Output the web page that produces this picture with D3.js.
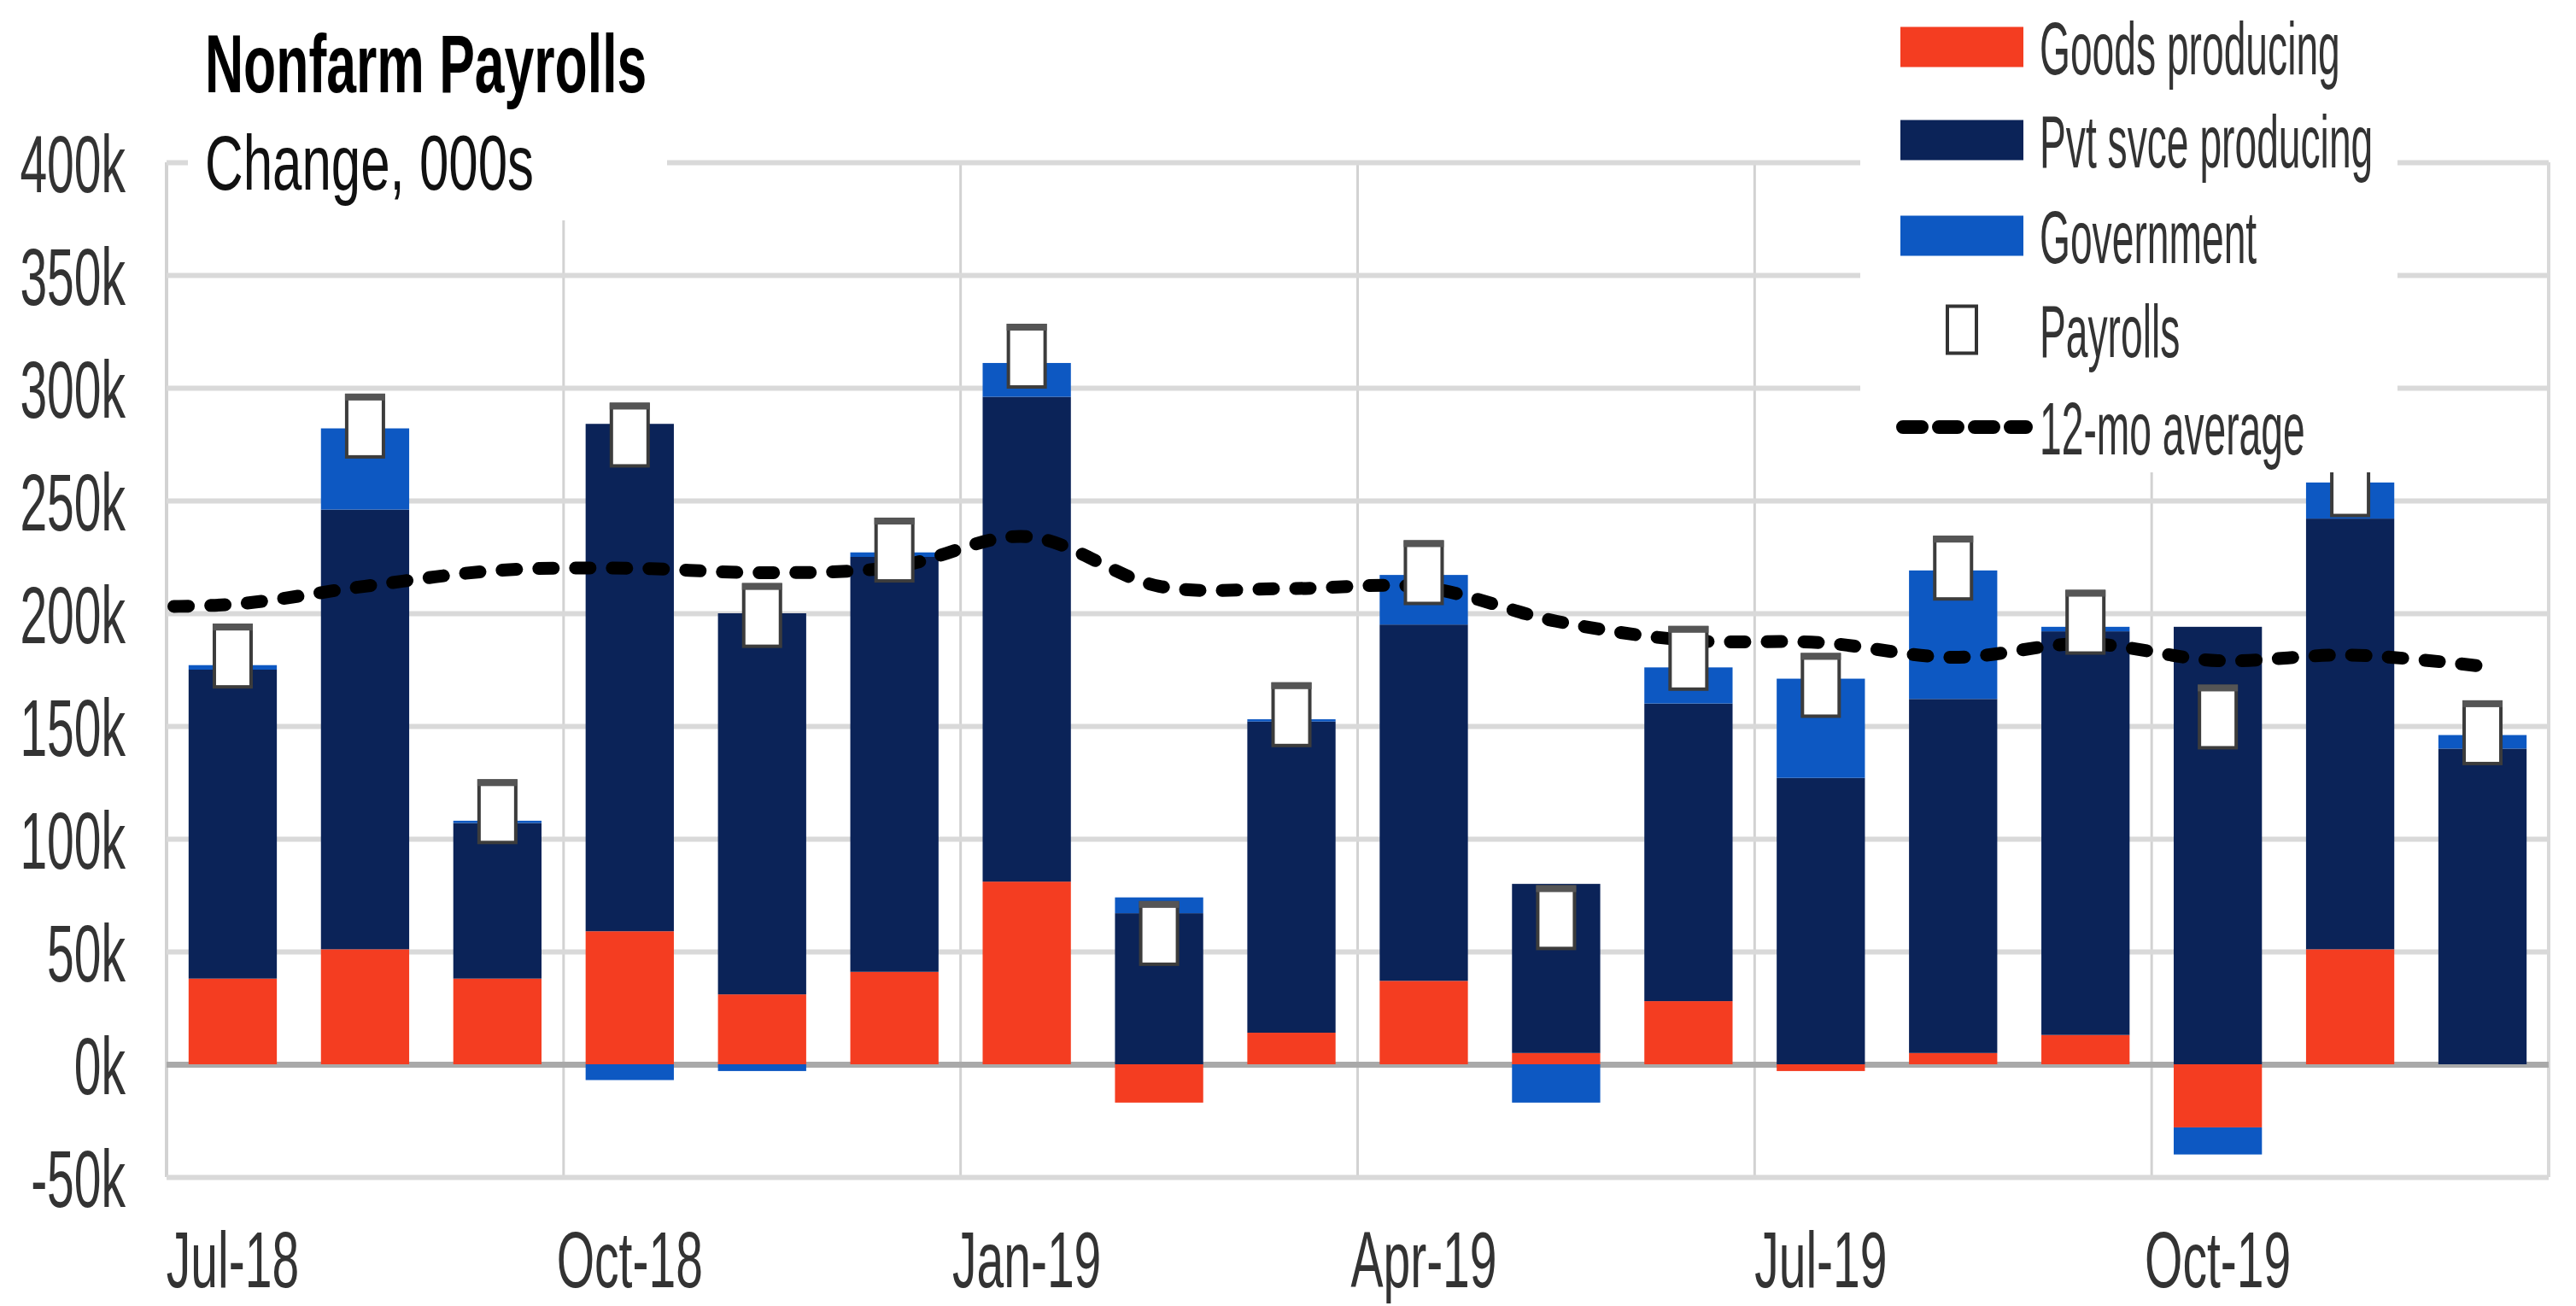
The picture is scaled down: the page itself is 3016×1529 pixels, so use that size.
<!DOCTYPE html>
<html>
<head>
<meta charset="utf-8">
<script src="https://cdn.jsdelivr.net/npm/d3@7"></script>
<style>
  html, body { margin: 0; padding: 0; background: #fff; }
  svg { display: block; font-family: "Liberation Sans", Arial, sans-serif; }
</style>
</head>
<body>
<svg id="chart" width="3016" height="1529"></svg>
<script>
// ---------------- data ----------------
const months = ["Jul-18","Aug-18","Sep-18","Oct-18","Nov-18","Dec-18","Jan-19","Feb-19","Mar-19",
                "Apr-19","May-19","Jun-19","Jul-19","Aug-19","Sep-19","Oct-19","Nov-19","Dec-19"];
const goods    = [38, 51, 38, 59, 31, 41, 81, -17, 14, 37, 5, 28, -3, 5, 13, -28, 51, 0];
const pvt      = [137, 195, 69, 225, 169, 184, 215, 67, 138, 158, 75, 132, 127, 157, 179, 194, 191, 140];
const gov      = [2, 36, 1, -7, -3, 2, 15, 7, 1, 22, -17, 16, 44, 57, 2, -12, 16, 6];
const payrolls = [181, 283, 112, 279, 199, 228, 314, 58, 155, 218, 65, 180, 168, 220, 196, 154, 257, 147];
// 12-month average, starting one month before the first bar (Jun-18)
const avgMonths = ["Jun-18"].concat(months);
const avg12    = [203, 204, 212, 219, 220, 218, 220.5, 234, 212, 211, 211.5, 196.5, 188, 187, 180.5, 186.5, 179, 181.5, 176.5];
const yTicks = [-50, 0, 50, 100, 150, 200, 250, 300, 350, 400];
const xTickLabels = ["Jul-18","Oct-18","Jan-19","Apr-19","Jul-19","Oct-19"];
const seriesKeys = ["goods", "pvt", "gov"];
const seriesNames = ["Goods producing", "Pvt svce producing", "Government"];
const title = "Nonfarm Payrolls";
const subtitle = "Change, 000s";

// ---------------- layout / style ----------------
const colors = { goods: "#f43d21", pvt: "#0b2358", gov: "#0d58c2" };
const plot = { left: 195, right: 2984, top: 190, bottom: 1378 };

const svg = d3.select("#chart");
svg.append("rect").attr("width", 3016).attr("height", 1529).attr("fill", "#fff");

const x = d3.scaleBand().domain(months).range([plot.left, plot.right])
  .paddingInner(1/3).paddingOuter(1/6);
const xIdx = d3.scaleLinear().domain([0, months.length]).range([plot.left, plot.right]);
const y = d3.scaleLinear().domain([-50, 400]).range([plot.bottom, plot.top]);

const rows = months.map((m, i) => ({ month: m, goods: goods[i], pvt: pvt[i], gov: gov[i] }));
const stacked = d3.stack().keys(seriesKeys).offset(d3.stackOffsetDiverging)(rows);

// ---------------- gridlines ----------------
const grid = svg.append("g");
const vIdx = d3.range(0, months.length + 1, 3);
grid.selectAll("line.v").data(vIdx).join("line")
  .attr("x1", d => xIdx(d)).attr("x2", d => xIdx(d))
  .attr("y1", plot.top).attr("y2", plot.bottom)
  .attr("stroke", "#d2d2d2").attr("stroke-width", d => d === 0 ? 4 : 3);
grid.append("line")
  .attr("x1", xIdx(months.length)).attr("x2", xIdx(months.length))
  .attr("y1", plot.top).attr("y2", plot.bottom)
  .attr("stroke", "#d9d9d9").attr("stroke-width", 4);

const yGrid = svg.append("g").attr("transform", `translate(${plot.left},0)`)
  .call(d3.axisLeft(y).tickValues(yTicks).tickSize(-(plot.right - plot.left)).tickFormat(""));
yGrid.select(".domain").remove();
yGrid.selectAll(".tick line")
  .attr("stroke", d => d === 0 ? "#a9a9a9" : "#d9d9d9")
  .attr("stroke-width", d => d === 0 ? 7 : 6);

// ---------------- bars ----------------
const barG = svg.append("g");
stacked.forEach(s => {
  barG.append("g").attr("fill", colors[s.key])
    .selectAll("rect").data(s).join("rect")
    .attr("x", d => x(d.data.month))
    .attr("width", x.bandwidth())
    .attr("y", d => y(Math.max(d[0], d[1])))
    .attr("height", d => Math.abs(y(d[0]) - y(d[1])));
});

// ---------------- 12-mo average ----------------
svg.append("clipPath").attr("id", "plotclip").append("rect")
  .attr("x", plot.left).attr("y", plot.top)
  .attr("width", plot.right - plot.left).attr("height", plot.bottom - plot.top);
const line = d3.line()
  .x((d, i) => xIdx(i - 0.5))
  .y(d => y(d))
  .curve(d3.curveCatmullRom.alpha(0.5));
svg.append("path").datum(avg12)
  .attr("clip-path", "url(#plotclip)")
  .attr("d", line)
  .attr("fill", "none").attr("stroke", "#000")
  .attr("stroke-width", 15).attr("stroke-linecap", "round")
  .attr("stroke-dasharray", "17 26");

// ---------------- payroll markers ----------------
const mW = 43, mH = 72;
const mk = svg.append("g");
mk.selectAll("rect.m").data(payrolls).join("rect")
  .attr("x", (d, i) => x(months[i]) + x.bandwidth() / 2 - mW / 2)
  .attr("y", d => y(d) - mH / 2)
  .attr("width", mW).attr("height", mH)
  .attr("fill", "#fff").attr("stroke", "#3c3c3c").attr("stroke-width", 4);
mk.selectAll("rect.t").data(payrolls).join("rect")
  .attr("x", (d, i) => x(months[i]) + x.bandwidth() / 2 - mW / 2 - 2)
  .attr("y", d => y(d) - mH / 2 - 2)
  .attr("width", mW + 4).attr("height", 8)
  .attr("fill", "#555");

// ---------------- axes labels ----------------
const tickFont = 95, tickSX = 0.6;
const yAx = svg.append("g").attr("transform", `translate(${plot.left},0)`)
  .call(d3.axisLeft(y).tickValues(yTicks).tickSize(0).tickFormat(d => d + "k"));
yAx.select(".domain").remove();
yAx.selectAll(".tick text")
  .attr("x", null).attr("dy", null)
  .attr("font-size", tickFont).attr("fill", "#333")
  .attr("font-family", "Liberation Sans, Arial, sans-serif")
  .attr("text-anchor", "end")
  .attr("transform", `translate(-48, ${tickFont * 0.358}) scale(${tickSX},1)`);

const xFont = 92;
const xAx = svg.append("g").attr("transform", `translate(0,${plot.bottom})`)
  .call(d3.axisBottom(x).tickValues(xTickLabels).tickSize(0));
xAx.select(".domain").remove();
xAx.selectAll(".tick text")
  .attr("y", null).attr("dy", null)
  .attr("font-size", xFont).attr("fill", "#333")
  .attr("font-family", "Liberation Sans, Arial, sans-serif")
  .attr("text-anchor", "middle")
  .attr("transform", `translate(0, 129) scale(0.62,1)`);

// ---------------- title box ----------------
svg.append("rect").attr("x", 220).attr("y", 0).attr("width", 561).attr("height", 258).attr("fill", "#fff");
svg.append("text").text(title)
  .attr("transform", "translate(240,108) scale(0.644,1)")
  .attr("font-size", 97).attr("font-weight", "bold").attr("fill", "#000");
svg.append("text").text(subtitle)
  .attr("transform", "translate(240,222) scale(0.687,1)")
  .attr("font-size", 90).attr("fill", "#111");

// ---------------- legend ----------------
svg.append("rect").attr("x", 2178).attr("y", 0).attr("width", 629).attr("height", 553).attr("fill", "#fff");
const lg = svg.append("g");
const rowY = [55, 164, 276, 386, 500];
const legFont = 88, legSX = 0.525, textX = 2388;
seriesKeys.forEach((k, i) => {
  lg.append("rect").attr("x", 2225).attr("y", rowY[i] - 23.5).attr("width", 144).attr("height", 47)
    .attr("fill", colors[k]);
  lg.append("text").text(seriesNames[i])
    .attr("transform", `translate(${textX},${rowY[i] + legFont * 0.358}) scale(${legSX},1)`)
    .attr("font-size", legFont).attr("fill", "#333");
});
lg.append("rect").attr("x", 2297 - 17).attr("y", rowY[3] - 27.5).attr("width", 34).attr("height", 55)
  .attr("fill", "#fff").attr("stroke", "#333").attr("stroke-width", 4);
lg.append("text").text("Payrolls")
  .attr("transform", `translate(${textX},${rowY[3] + legFont * 0.358}) scale(${legSX},1)`)
  .attr("font-size", legFont).attr("fill", "#333");
lg.append("line").attr("x1", 2228).attr("x2", 2372).attr("y1", rowY[4]).attr("y2", rowY[4])
  .attr("stroke", "#000").attr("stroke-width", 16).attr("stroke-linecap", "round")
  .attr("stroke-dasharray", "22 20");
lg.append("text").text("12-mo average")
  .attr("transform", `translate(${textX},${rowY[4] + legFont * 0.358}) scale(${legSX},1)`)
  .attr("font-size", legFont).attr("fill", "#333");
</script>
</body>
</html>
